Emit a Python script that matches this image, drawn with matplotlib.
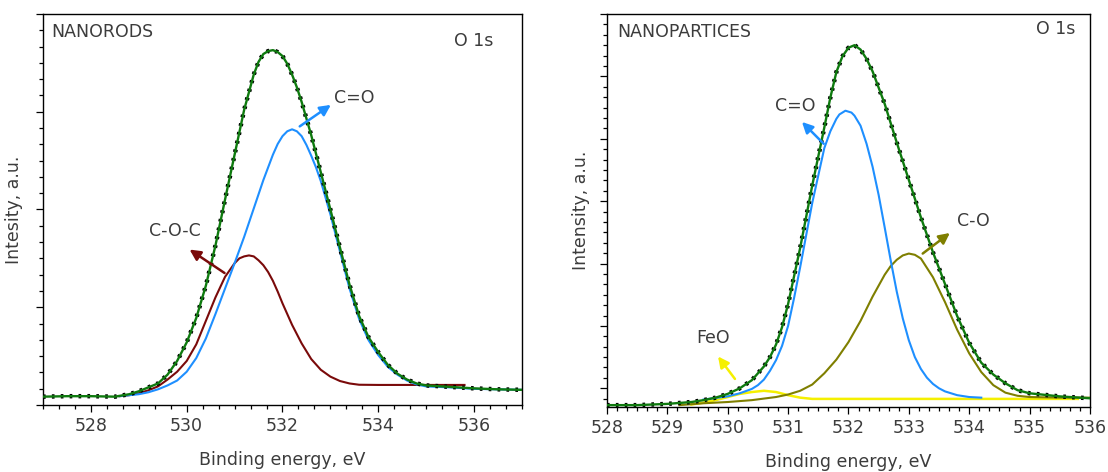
"""
O 1s XPS spectra: nanorods vs nanoparticles
"""
import matplotlib
matplotlib.use("Agg")
import matplotlib.pyplot as plt
from matplotlib.ticker import MultipleLocator, NullFormatter

# ---- NANORODS (left panel) ----
rods_env_x = [527.0, 527.5, 528.0, 528.5, 528.8, 529.0, 529.2, 529.4, 529.6, 529.8,
              530.0, 530.2, 530.4, 530.6, 530.8, 531.0, 531.2, 531.4, 531.5, 531.6,
              531.7, 531.8, 531.9, 532.0, 532.1, 532.2, 532.3, 532.4, 532.6, 532.8,
              533.0, 533.2, 533.4, 533.6, 533.8, 534.0, 534.2, 534.4, 534.6, 534.8,
              535.0, 535.5, 536.0, 536.5, 537.0]
rods_env_y = [0.085, 0.09, 0.09, 0.085, 0.11, 0.14, 0.18, 0.22, 0.31, 0.45,
              0.64, 0.89, 1.22, 1.63, 2.10, 2.56, 3.02, 3.38, 3.51, 3.59,
              3.62, 3.63, 3.61, 3.57, 3.49, 3.38, 3.25, 3.10, 2.76, 2.38,
              2.00, 1.61, 1.23, 0.91, 0.69, 0.54, 0.41, 0.32, 0.26, 0.22,
              0.20, 0.185, 0.17, 0.16, 0.155]

rods_co_x = [528.6, 528.8, 529.0, 529.2, 529.4, 529.6, 529.8, 530.0, 530.2, 530.4,
             530.6, 530.8, 531.0, 531.2, 531.4, 531.6, 531.8, 531.9, 532.0, 532.1,
             532.2, 532.3, 532.4, 532.5, 532.6, 532.7, 532.8, 533.0, 533.2, 533.4,
             533.6, 533.8, 534.0, 534.2, 534.4, 534.6, 534.8, 535.0, 535.5, 536.0,
             536.5, 537.0]
rods_co_y = [0.09, 0.10, 0.11, 0.13, 0.16, 0.20, 0.25, 0.34, 0.48, 0.68,
             0.93, 1.19, 1.45, 1.72, 2.01, 2.30, 2.56, 2.67, 2.75, 2.80,
             2.82, 2.80, 2.75, 2.66, 2.55, 2.43, 2.29, 1.95, 1.57, 1.19,
             0.88, 0.66, 0.51, 0.39, 0.31, 0.25, 0.21, 0.19, 0.18, 0.165,
             0.16, 0.155]

rods_coc_x = [528.6, 528.8, 529.0, 529.2, 529.4, 529.6, 529.8, 530.0, 530.2, 530.4,
              530.6, 530.8, 531.0, 531.1, 531.2, 531.3, 531.4, 531.5, 531.6, 531.7,
              531.8, 531.9, 532.0, 532.2, 532.4, 532.6, 532.8, 533.0, 533.2, 533.4,
              533.6, 534.0, 535.0, 535.8]
rods_coc_y = [0.09, 0.10, 0.12, 0.15, 0.19, 0.26, 0.34, 0.45, 0.62, 0.86,
              1.10, 1.31, 1.45, 1.50, 1.52, 1.53, 1.52, 1.48, 1.43, 1.36,
              1.27, 1.16, 1.04, 0.82, 0.63, 0.47, 0.36, 0.29, 0.245, 0.22,
              0.207, 0.205, 0.205, 0.205]

# ---- NANOPARTICES (right panel) ----
parts_env_x = [528.0, 528.5, 529.0, 529.4, 529.6, 529.8, 530.0, 530.2, 530.4, 530.6,
               530.7, 530.8, 530.9, 531.0, 531.2, 531.4, 531.6, 531.7, 531.8, 531.9,
               532.0, 532.1, 532.2, 532.3, 532.4, 532.6, 532.8, 533.0, 533.2, 533.4,
               533.6, 533.8, 534.0, 534.2, 534.4, 534.6, 534.8, 535.0, 535.5, 536.0]
parts_env_y = [-0.27, -0.27, -0.25, -0.22, -0.19, -0.15, -0.09, 0.00, 0.13, 0.35,
               0.50, 0.70, 0.98, 1.35, 2.25, 3.25, 4.18, 4.66, 5.07, 5.32,
               5.46, 5.50, 5.43, 5.28, 5.08, 4.56, 3.94, 3.34, 2.74, 2.18,
               1.67, 1.16, 0.73, 0.41, 0.22, 0.08, -0.03, -0.08, -0.13, -0.16]

parts_co_x = [529.6, 530.0, 530.2, 530.4, 530.5, 530.6, 530.7, 530.8, 530.9, 531.0,
              531.1, 531.2, 531.4, 531.6, 531.7, 531.8, 531.85, 531.95, 532.05, 532.1,
              532.2, 532.3, 532.4, 532.5, 532.6, 532.7, 532.8, 532.9, 533.0, 533.1,
              533.2, 533.3, 533.4, 533.5, 533.6, 533.8, 534.0, 534.2]
parts_co_y = [-0.18, -0.13, -0.08, -0.01, 0.05, 0.14, 0.28, 0.45, 0.68, 1.00,
              1.45, 1.94, 2.97, 3.85, 4.12, 4.32, 4.39, 4.45, 4.42, 4.37,
              4.21, 3.92, 3.55, 3.10, 2.58, 2.05, 1.55, 1.12, 0.77, 0.50,
              0.31, 0.17, 0.07, 0.00, -0.05, -0.11, -0.14, -0.15]

parts_c_o_x = [529.2, 529.6, 530.0, 530.4, 530.8, 531.0, 531.2, 531.4, 531.6, 531.8,
               532.0, 532.2, 532.4, 532.6, 532.7, 532.8, 532.9, 533.0, 533.1, 533.2,
               533.4, 533.6, 533.8, 534.0, 534.2, 534.4, 534.6, 534.8, 535.0, 535.5,
               536.0]
parts_c_o_y = [-0.27, -0.24, -0.22, -0.19, -0.14, -0.10, -0.04, 0.06, 0.24, 0.46,
               0.74, 1.08, 1.47, 1.82, 1.96, 2.06, 2.13, 2.16, 2.14, 2.08,
               1.78, 1.38, 0.94, 0.56, 0.26, 0.05, -0.07, -0.12, -0.14, -0.15,
               -0.15]

parts_feo_x = [529.4, 529.6, 529.8, 530.0, 530.2, 530.4, 530.6, 530.8, 531.0, 531.2,
               531.4, 532.0, 533.0, 534.0, 535.0, 535.8]
parts_feo_y = [-0.26, -0.23, -0.19, -0.14, -0.09, -0.06, -0.04, -0.06, -0.11, -0.15,
               -0.17, -0.17, -0.17, -0.17, -0.17, -0.17]

TXT = "#3c3c3c"
GREEN = "#0f7a0f"
BLUE = "#1e8fff"
MAROON = "#7a0a0a"
OLIVE = "#7f7f00"
YELLOW = "#f5f000"

plt.rcParams["font.family"] = ["DejaVu Sans"]
plt.rcParams["font.size"] = 12.5


def style_axes(ax, xmaj, xmin, ymaj, ymin):
    ax.xaxis.set_major_locator(MultipleLocator(xmaj))
    ax.xaxis.set_minor_locator(MultipleLocator(xmin))
    ax.yaxis.set_major_locator(MultipleLocator(ymaj))
    ax.yaxis.set_minor_locator(MultipleLocator(ymin))
    ax.yaxis.set_major_formatter(NullFormatter())
    ax.tick_params(which="major", direction="out", length=5, width=0.9,
                   labelcolor=TXT, labelsize=12.5)
    ax.tick_params(which="minor", direction="out", length=3, width=0.9)
    ax.tick_params(top=False, right=False, which="both")
    for s in ax.spines.values():
        s.set_linewidth(1.0)
    ax.set_xlabel("Binding energy, eV", color=TXT, fontsize=12.5, labelpad=12)


def envelope(ax, x, y):
    ax.plot(x, y, color="black", lw=3.2, ls=(0, (0.6, 1.4)), zorder=3)
    ax.plot(x, y, color=GREEN, lw=1.7, zorder=4)


def arrow(ax, tail, head, color):
    ax.annotate("", xy=head, xytext=tail,
                arrowprops=dict(arrowstyle="-|>", color=color, lw=1.8,
                                mutation_scale=16, shrinkA=0, shrinkB=0),
                zorder=5)


fig = plt.figure(figsize=(11.08, 4.72), dpi=100)

# left panel
ax1 = fig.add_axes([0.0388, 0.142, 0.4323, 0.8284])
ax1.plot(rods_coc_x, rods_coc_y, color=MAROON, lw=1.5, zorder=2)
ax1.plot(rods_co_x, rods_co_y, color=BLUE, lw=1.5, zorder=2)
envelope(ax1, rods_env_x, rods_env_y)
ax1.set_xlim(527, 537)
ax1.set_ylim(0, 4)
style_axes(ax1, 2, 1 / 3, 1, 1 / 6)
ax1.set_ylabel("Intesity, a.u.", color=TXT, fontsize=12.5, labelpad=6)
ax1.text(0.018, 0.955, "NANORODS", transform=ax1.transAxes, ha="left",
         va="center", color=TXT, fontsize=12.5)
ax1.text(0.90, 0.932, "O 1s", transform=ax1.transAxes, ha="center",
         va="center", color=TXT, fontsize=12.5)
arrow(ax1, (532.36, 2.85), (533.01, 3.07), BLUE)
ax1.text(533.5, 3.14, "C=O", ha="center", va="center", color=TXT, fontsize=12.5)
arrow(ax1, (530.79, 1.35), (530.06, 1.59), MAROON)
ax1.text(529.76, 1.78, "C-O-C", ha="center", va="center", color=TXT, fontsize=12.5)

# right panel
ax2 = fig.add_axes([0.5478, 0.1377, 0.4359, 0.8326])
ax2.plot(parts_feo_x, parts_feo_y, color=YELLOW, lw=1.8, zorder=2)
ax2.plot(parts_c_o_x, parts_c_o_y, color=OLIVE, lw=1.5, zorder=2)
ax2.plot(parts_co_x, parts_co_y, color=BLUE, lw=1.5, zorder=2)
envelope(ax2, parts_env_x, parts_env_y)
ax2.set_xlim(528, 536)
ax2.set_ylim(-0.3, 6.0)
style_axes(ax2, 1, 1 / 6, 1, 1 / 6)
ax2.set_ylabel("Intensity, a.u.", color=TXT, fontsize=12.5, labelpad=4)
ax2.text(0.022, 0.955, "NANOPARTICES", transform=ax2.transAxes, ha="left",
         va="center", color=TXT, fontsize=12.5)
ax2.text(0.93, 0.962, "O 1s", transform=ax2.transAxes, ha="center",
         va="center", color=TXT, fontsize=12.5)
arrow(ax2, (531.59, 3.92), (531.23, 4.27), BLUE)
ax2.text(531.12, 4.52, "C=O", ha="center", va="center", color=TXT, fontsize=12.5)
arrow(ax2, (533.23, 2.16), (533.68, 2.49), OLIVE)
ax2.text(534.07, 2.68, "C-O", ha="center", va="center", color=TXT, fontsize=12.5)
arrow(ax2, (530.12, 0.15), (529.84, 0.51), YELLOW)
ax2.text(529.76, 0.81, "FeO", ha="center", va="center", color=TXT, fontsize=12.5)

fig.savefig("out.png", dpi=100)
